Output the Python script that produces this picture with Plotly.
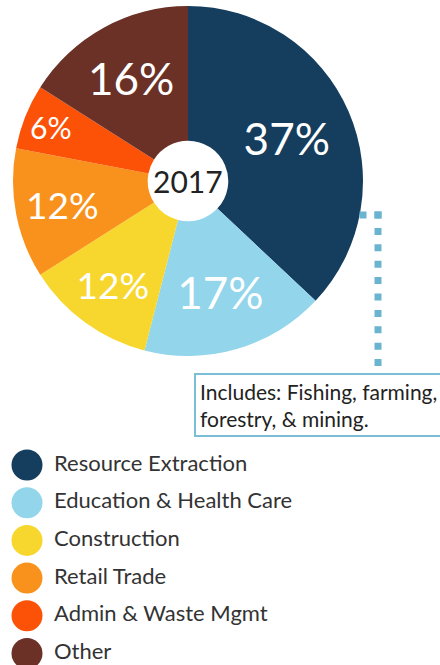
import plotly.graph_objects as go

categories = ["Resource Extraction", "Education & Health Care", "Construction",
              "Retail Trade", "Admin & Waste Mgmt", "Other"]
shares = [37, 17, 12, 12, 6, 16]
year_label = "2017"
note_text = "Includes: Fishing, farming,<br>forestry, & mining."

colors = ["#143d5e", "#93d5ea", "#f7d72e", "#f8921d", "#fc5207", "#6b3127"]
label_sizes = [44, 44, 37, 37, 35, 44]
W, H = 440, 665
FONT = "Lato"

fig = go.Figure()

# pie
pie_x = [12 / W, 364 / W]
pie_y = [1 - 356 / H, 1 - 6 / H]
fig.add_trace(go.Pie(
    labels=categories, values=shares, sort=False, direction="clockwise", rotation=0,
    hole=0.23, marker=dict(colors=colors, line=dict(width=0)),
    texttemplate="%{value}%", textposition="inside", insidetextorientation="horizontal",
    textfont=dict(family=FONT, color="white", size=label_sizes),
    domain=dict(x=pie_x, y=pie_y), showlegend=False, hoverinfo="label+percent",
))

# legend drawn as scatter
idx = list(range(len(categories)))
fig.add_trace(go.Scatter(
    x=[27] * len(categories), y=idx, mode="markers",
    marker=dict(size=31, color=colors), xaxis="x2", yaxis="y2",
    showlegend=False, hoverinfo="skip",
))
fig.add_trace(go.Scatter(
    x=[54] * len(categories), y=idx, mode="text", text=categories,
    textposition="middle right", textfont=dict(family=FONT, size=22, color="#333333"),
    xaxis="x2", yaxis="y2", showlegend=False, hoverinfo="skip",
))

top_px = 445
unit = 37.7
first_px = 465
r0 = -(first_px - top_px) / unit
r1 = r0 + (H - top_px) / unit

fig.update_layout(
    width=W, height=H, margin=dict(l=0, r=0, t=0, b=0),
    paper_bgcolor="white", plot_bgcolor="rgba(0,0,0,0)",
    xaxis2=dict(domain=[0, 1], range=[0, W], visible=False, fixedrange=True),
    yaxis2=dict(domain=[0, (H - top_px) / H], range=[r1, r0], visible=False, fixedrange=True),
    font=dict(family=FONT),
)

cx = (pie_x[0] + pie_x[1]) / 2
cy = (pie_y[0] + pie_y[1]) / 2
fig.add_annotation(x=cx, y=cy, xref="paper", yref="paper", xanchor="center", yanchor="middle",
                   text=year_label, showarrow=False,
                   font=dict(family=FONT, size=30, color="#222222"))

# dotted connector
dot_color = "#6ab4d0"
fig.add_shape(type="line", xref="paper", yref="paper",
              x0=359.5 / W, x1=381.5 / W, y0=1 - 215 / H, y1=1 - 215 / H,
              line=dict(color=dot_color, width=7, dash="7px,8px"))
fig.add_shape(type="line", xref="paper", yref="paper",
              x0=378 / W, x1=378 / W, y0=1 - 211.5 / H, y1=1 - 367 / H,
              line=dict(color=dot_color, width=7, dash="7px,9.4px"))

fig.add_annotation(x=194 / W, y=1 - 373 / H, xref="paper", yref="paper",
                   xanchor="left", yanchor="top", align="left", text=note_text,
                   showarrow=False, font=dict(family=FONT, size=21, color="#222222"),
                   bordercolor="#7bbfd6", borderwidth=2, borderpad=4, bgcolor="white")

fig.write_html("out.html", config={"displayModeBar": False},
               post_script="document.body.style.margin='0';")
